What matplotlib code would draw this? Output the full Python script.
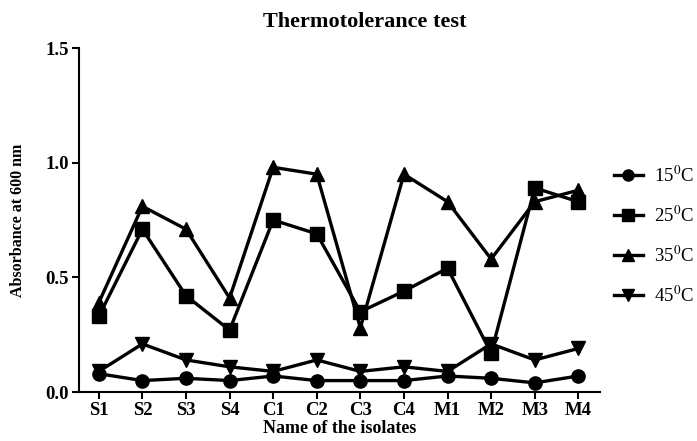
import matplotlib
matplotlib.use('Agg')
import matplotlib.pyplot as plt

plt.rcParams['font.family'] = 'Liberation Serif'
plt.rcParams['mathtext.fontset'] = 'stix'

isolates = ['S1', 'S2', 'S3', 'S4', 'C1', 'C2', 'C3', 'C4', 'M1', 'M2', 'M3', 'M4']
temp_15 = [0.08, 0.05, 0.06, 0.05, 0.07, 0.05, 0.05, 0.05, 0.07, 0.06, 0.04, 0.07]
temp_25 = [0.33, 0.71, 0.42, 0.27, 0.75, 0.69, 0.35, 0.44, 0.54, 0.17, 0.89, 0.83]
temp_35 = [0.39, 0.81, 0.71, 0.41, 0.98, 0.95, 0.28, 0.95, 0.83, 0.58, 0.83, 0.88]
temp_45 = [0.09, 0.21, 0.14, 0.11, 0.09, 0.14, 0.09, 0.11, 0.09, 0.21, 0.14, 0.19]

series = [
    (temp_15, 'o', r'15$^{0}$C'),
    (temp_25, 's', r'25$^{0}$C'),
    (temp_35, '^', r'35$^{0}$C'),
    (temp_45, 'v', r'45$^{0}$C'),
]

fig = plt.figure(figsize=(6.97, 4.41), dpi=100)
ax = fig.add_axes([0.113, 0.111, 0.748, 0.78])

x = list(range(len(isolates)))
for vals, mk, lab in series:
    ax.plot(x, vals, color='black', lw=2.4, marker=mk, markersize=9.5, label=lab)

ax.set_xlim(-0.46, 11.5)
ax.set_ylim(0, 1.5)
ax.set_yticks([0.0, 0.5, 1.0, 1.5])
ax.set_yticklabels(['0.0', '0.5', '1.0', '1.5'])
ax.set_xticks(x)
ax.set_xticklabels(isolates)
for lbl in ax.get_xticklabels() + ax.get_yticklabels():
    lbl.set_fontweight('bold')
    lbl.set_fontsize(13.5)

ax.spines['top'].set_visible(False)
ax.spines['right'].set_visible(False)
ax.spines['left'].set_linewidth(1.5)
ax.spines['bottom'].set_linewidth(1.5)
ax.tick_params(width=1.5, length=5, pad=2)

ax.set_xlabel('Name of the isolates', fontsize=13, fontweight='bold', labelpad=1)
ax.set_ylabel('Absorbance at 600 nm', fontsize=11.5, fontweight='bold', labelpad=14)
fig.text(0.523, 0.95, 'Thermotolerance test', fontsize=16, fontweight='bold', ha='center', va='center')

leg = ax.legend(loc='upper left', bbox_to_anchor=(1.013, 0.68), frameon=False, fontsize=13.5,
                handlelength=1.5, labelspacing=1.05, handletextpad=0.6, borderaxespad=0)
for h in leg.legend_handles:
    h.set_markersize(8)

fig.savefig('out.png', dpi=100)
